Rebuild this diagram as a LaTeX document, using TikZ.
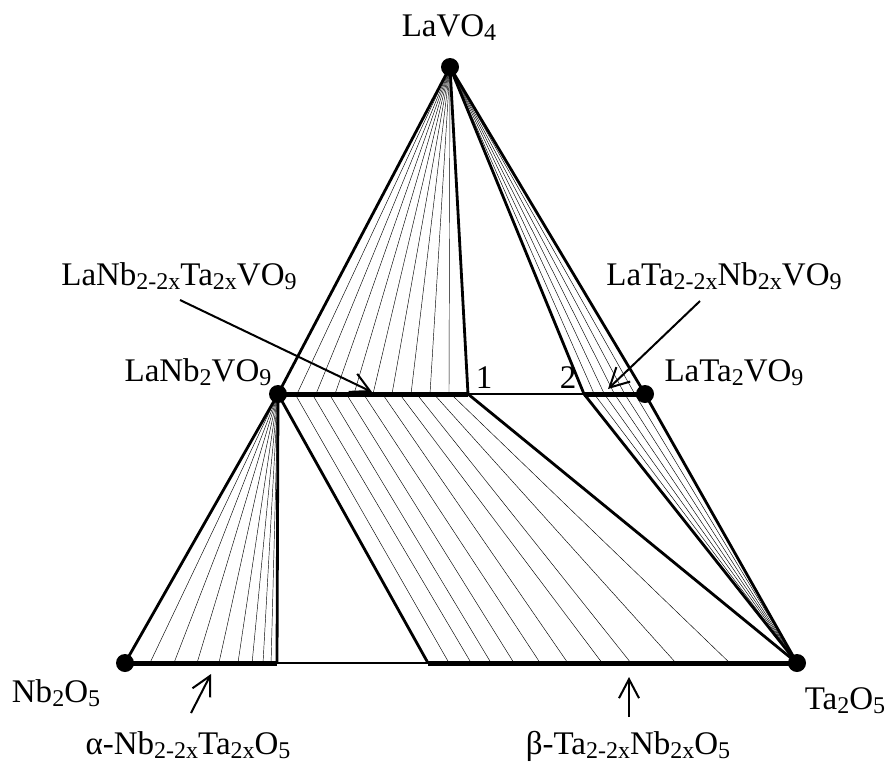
\documentclass[tikz,border=0pt]{standalone}
\usepackage{fontspec}
\setmainfont{Liberation Serif}
\usetikzlibrary{arrows.meta,calc}

\newcommand\sbs[1]{\raisebox{-4.5pt}{\fontsize{24}{26}\selectfont #1}}

\begin{document}
\begin{tikzpicture}[x=1pt, y=-1pt, font=\fontsize{33}{38}\selectfont,
  edge/.style={line width=2.8pt},
  bar/.style={line width=5pt},
  gapline/.style={line width=2pt},
  tie/.style={line width=0.45pt},
  lbl/.style={anchor=base, inner sep=0pt},
  ptr/.style={line width=2pt, -{Straight Barb[length=19pt,width=20pt,line width=2pt]}}]
  \useasboundingbox (0,0) rectangle (888,764);

  % corners of the diagram
  \coordinate (apex) at (450,67);
  \coordinate (nbv) at (278,394);
  \coordinate (tav) at (645,394);
  \coordinate (nbo) at (125,663);
  \coordinate (tao) at (797,663);
  % ends of the solid solutions
  \coordinate (p1) at (468,394);
  \coordinate (p2) at (584,394);
  \coordinate (qa) at (277,663);
  \coordinate (qb) at (428,663);

  % tie lines
  \foreach \t in {0.1,0.2,...,0.91}
    \draw[tie] (apex) -- ($(nbv)!\t!(p1)$);
  \foreach \t in {0.167,0.333,0.5,0.667,0.833} {
    \draw[tie] (apex) -- ($(p2)!\t!(tav)$);
    \draw[tie] (tao) -- ($(p2)!\t!(tav)$);
  }
  \foreach \t in {0.164,0.322,0.474,0.618,0.743,0.836,0.908,0.961}
    \draw[tie] (nbv) -- ($(nbo)!\t!(qa)$);
  \foreach \s/\u in {0.09/0.057,0.18/0.117,0.27/0.171,0.36/0.233,0.45/0.304,
                     0.55/0.379,0.64/0.472,0.73/0.55,0.82/0.672,0.91/0.818}
    \draw[tie] ($(nbv)!\s!(p1)$) -- ($(qb)!\u!(tao)$);

  % phase boundaries
  \draw[edge] (nbo) -- (nbv) -- (apex) -- (tav) -- (tao);
  \draw[edge] (apex) -- (p1) -- (tao);
  \draw[edge] (apex) -- (p2) -- (tao);
  \draw[edge] (nbv) -- (qa);
  \draw[edge] (nbv) -- (qb);

  % joins
  \draw[bar] (nbv) -- (p1);
  \draw[gapline] (p1) -- (p2);
  \draw[bar] (p2) -- (tav);
  \draw[bar] (nbo) -- (qa);
  \draw[gapline] (qa) -- (qb);
  \draw[bar] (qb) -- (tao);

  \foreach \c in {apex,nbv,tav,nbo,tao}
    \fill (\c) circle[radius=9];

  % labels
  \node[lbl] (lvo) at (449,36) {LaVO\sbs{4}};
  \node[lbl] (lnv) at (198,381) {LaNb\sbs{2}VO\sbs{9}};
  \node[lbl] (ltv) at (734,381) {LaTa\sbs{2}VO\sbs{9}};
  \node[lbl] (nss) at (179,285) {LaNb\sbs{2-2x}Ta\sbs{2x}VO\sbs{9}};
  \node[lbl] (tss) at (724,285) {LaTa\sbs{2-2x}Nb\sbs{2x}VO\sbs{9}};
  \node[lbl] (one) at (484,388) {1};
  \node[lbl] (two) at (568,388) {2};
  \node[lbl] (nbl) at (56,702) {Nb\sbs{2}O\sbs{5}};
  \node[lbl] (tal) at (845,709) {Ta\sbs{2}O\sbs{5}};
  \node[lbl] (alf) at (188,754) {α-Nb\sbs{2-2x}Ta\sbs{2x}O\sbs{5}};
  \node[lbl] (bet) at (628,754) {β-Ta\sbs{2-2x}Nb\sbs{2x}O\sbs{5}};

  % pointers
  \coordinate (nssTail) at (180,300);
  \coordinate (nssTip) at (372,392);
  \coordinate (tssTail) at (700,301);
  \coordinate (tssTip) at (608,389);
  \coordinate (alfTail) at (191,713);
  \coordinate (alfTip) at (211,674);
  \coordinate (betTail) at (629,717);
  \coordinate (betTip) at (629,677);
  \draw[ptr] (nssTail) -- (nssTip);
  \draw[ptr] (tssTail) -- (tssTip);
  \draw[ptr] (alfTail) -- (alfTip);
  \draw[ptr] (betTail) -- (betTip);
\end{tikzpicture}
\end{document}
